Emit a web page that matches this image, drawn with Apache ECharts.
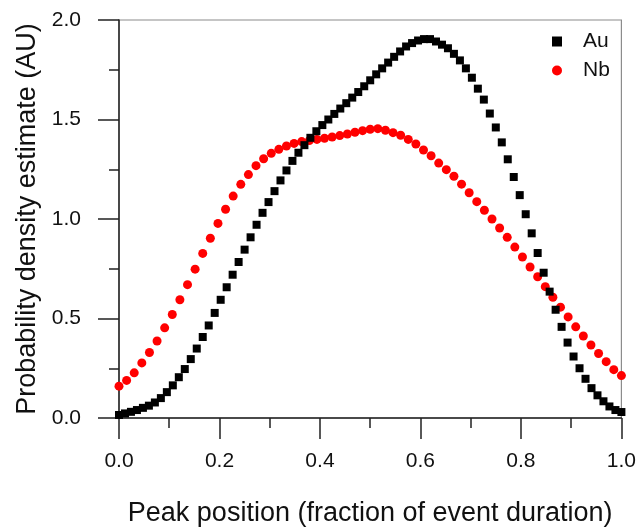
<!DOCTYPE html>
<html><head><meta charset="utf-8">
<script src="https://cdn.jsdelivr.net/npm/echarts@6/dist/echarts.min.js"></script>
<style>html,body{margin:0;padding:0;background:#fff}#c{width:639px;height:532px}</style>
</head><body><div id="c"></div>
<script>
// Au: 85 samples evenly spaced over [0,1]
const auY = [0.015,0.023,0.031,0.040,0.051,0.062,0.078,0.100,0.130,0.164,
 0.205,0.246,0.296,0.349,0.407,0.465,0.528,0.594,0.657,0.720,
 0.784,0.846,0.908,0.971,1.031,1.085,1.140,1.194,1.244,1.292,
 1.333,1.371,1.408,1.441,1.472,1.500,1.528,1.555,1.582,1.610,
 1.638,1.667,1.697,1.727,1.757,1.786,1.815,1.842,1.867,1.884,
 1.897,1.904,1.904,1.892,1.876,1.858,1.830,1.797,1.757,1.710,
 1.655,1.600,1.530,1.460,1.385,1.300,1.211,1.120,1.024,0.928,
 0.829,0.730,0.635,0.544,0.458,0.379,0.309,0.250,0.197,0.150,
 0.114,0.084,0.058,0.040,0.030];
// Nb: 67 samples evenly spaced over [0,1]
const nbY = [0.160,0.189,0.227,0.277,0.329,0.387,0.453,0.520,0.594,0.670,
 0.748,0.827,0.903,0.978,1.049,1.115,1.174,1.223,1.268,1.303,
 1.330,1.350,1.367,1.380,1.389,1.394,1.400,1.406,1.412,1.419,
 1.427,1.436,1.444,1.451,1.454,1.446,1.434,1.421,1.400,1.377,
 1.347,1.318,1.281,1.248,1.215,1.175,1.132,1.087,1.044,1.000,
 0.955,0.908,0.859,0.809,0.759,0.710,0.660,0.607,0.557,0.508,
 0.458,0.412,0.367,0.324,0.283,0.243,0.213];
const seriesNames = ['Au','Nb'];
const xTicks = [0.0,0.2,0.4,0.6,0.8,1.0];
const yTicks = [0.0,0.5,1.0,1.5,2.0];
const xTitle = 'Peak position (fraction of event duration)';
const yTitle = 'Probability density estimate (AU)';

const toPairs = (ys) => ys.map((v,i) => [i/(ys.length-1), v]);
const FONT = 'Liberation Sans, Arial, sans-serif';
const chart = echarts.init(document.getElementById('c'), null, {renderer:'canvas'});
const axisCommon = {
  axisLine:{show:true,onZero:false,lineStyle:{color:'#222',width:1.5}},
  axisTick:{show:true,inside:false,length:21,lineStyle:{color:'#222',width:1.5}},
  minorTick:{show:true,splitNumber:2,length:10,lineStyle:{color:'#222',width:1.5}},
  splitLine:{show:false},
  axisLabel:{color:'#111',fontSize:21,fontFamily:FONT,formatter:v=>v.toFixed(1)},
  nameLocation:'middle',
  nameTextStyle:{color:'#111',fontSize:27,fontFamily:FONT}
};
chart.setOption({
  animation:false,
  backgroundColor:'#fff',
  grid:{left:119,right:15,top:20,bottom:109,show:true,borderColor:'#8c8c8c',borderWidth:1.2},
  legend:{
    orient:'vertical',left:547,top:26,itemGap:8,itemWidth:10,itemHeight:10,
    textStyle:{fontSize:21,fontFamily:FONT,color:'#111',padding:[0,0,0,16]},
    data:[{name:'Au',icon:'rect'},{name:'Nb',icon:'circle'}]
  },
  xAxis:Object.assign({},axisCommon,{
    type:'value',min:xTicks[0],max:xTicks[xTicks.length-1],interval:0.2,
    name:xTitle,nameGap:82,
    axisLabel:Object.assign({},axisCommon.axisLabel,{margin:33})
  }),
  yAxis:Object.assign({},axisCommon,{
    type:'value',min:yTicks[0],max:yTicks[yTicks.length-1],interval:0.5,
    name:yTitle,nameGap:77,
    axisLabel:Object.assign({},axisCommon.axisLabel,{margin:38})
  }),
  series:[
    {name:seriesNames[0],type:'scatter',symbol:'rect',symbolSize:8,
     itemStyle:{color:'#000',opacity:1},data:toPairs(auY),z:3},
    {name:seriesNames[1],type:'scatter',symbol:'circle',symbolSize:9,
     itemStyle:{color:'#ff0000',opacity:1},data:toPairs(nbY),z:2}
  ]
});
</script></body></html>
